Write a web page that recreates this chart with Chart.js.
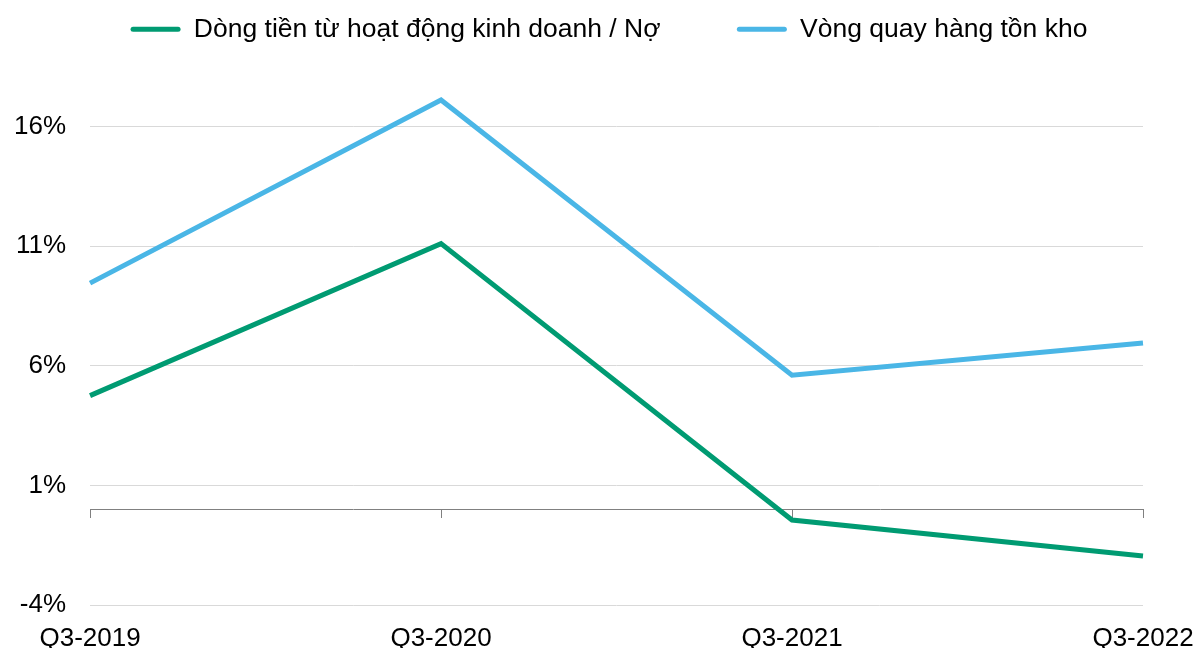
<!DOCTYPE html>
<html>
<head>
    <meta charset="utf-8">
    <title>Dòng tiền và vòng quay hàng tồn kho</title>
    <style>
        body {
            margin: 0;
            padding: 0;
            background-color: #ffffff;
        }
        #wrap {
            width: 1198px;
            height: 648px;
        }
    </style>
    <script src="https://cdn.jsdelivr.net/npm/chart.js"></script>
</head>
<body>
<div id="wrap"><canvas id="myChart"></canvas></div>
<script>
    // Dữ liệu
    const quarters = ['Q3-2019', 'Q3-2020', 'Q3-2021', 'Q3-2022'];
    const cashFlowDebt = [4.75, 11.1, -0.45, -1.95];      // Dòng tiền từ HĐKD / Nợ (%)
    const inventoryTurnover = [9.45, 17.1, 5.6, 6.95];    // Vòng quay hàng tồn kho
    const yTicks = [-4, 1, 6, 11, 16];

    const fontFamily = '"Liberation Sans", Arial, sans-serif';

    // chừa thêm khoảng trống dưới chú thích, dịch chú thích sang phải một chút
    const legendGap = {
        id: 'legendGap',
        beforeInit(chart) {
            const origFit = chart.legend.fit;
            chart.legend.fit = function () {
                origFit.bind(chart.legend)();
                this.height += 26;
            };
        },
        afterLayout(chart) {
            chart.legend.left += 3;
            chart.legend.right += 3;
        }
    };

    const ctx = document.getElementById('myChart').getContext('2d');
    const myChart = new Chart(ctx, {
        type: 'line',
        data: {
            labels: quarters,
            datasets: [{
                label: 'Dòng tiền từ hoạt động kinh doanh / Nợ',
                data: cashFlowDebt,
                borderColor: '#009b72',
                backgroundColor: '#009b72',
                borderWidth: 5,
                pointRadius: 0,
                tension: 0
            }, {
                label: 'Vòng quay hàng tồn kho',
                data: inventoryTurnover,
                borderColor: '#4ab6e6',
                backgroundColor: '#4ab6e6',
                borderWidth: 5,
                pointRadius: 0,
                tension: 0
            }]
        },
        options: {
            responsive: true,
            maintainAspectRatio: false,
            animation: false,
            layout: {
                padding: { left: 14, right: 0, top: 6, bottom: 0 }
            },
            scales: {
                x: {
                    type: 'category',
                    position: 'bottom',
                    offset: false,
                    grid: { display: false, drawTicks: false },
                    border: { display: false },
                    afterFit: (scale) => {
                        scale.height = 43;
                        scale.paddingLeft = 0;
                        scale.paddingRight = 55;
                    },
                    ticks: {
                        color: '#000',
                        padding: 18,
                        maxRotation: 0,
                        font: { family: fontFamily, size: 26 }
                    }
                },
                // trục ngang ở mức 0 với vạch chia
                xZero: {
                    type: 'category',
                    position: { y: 0 },
                    offset: false,
                    afterFit: (scale) => {
                        scale.paddingLeft = 0;
                        scale.paddingRight = 0;
                    },
                    grid: {
                        drawOnChartArea: false,
                        drawTicks: true,
                        tickLength: 8,
                        color: '#808080'
                    },
                    border: { display: true, color: '#808080', width: 1 },
                    ticks: { display: false }
                },
                y: {
                    min: -4,
                    max: 18,
                    afterBuildTicks: (scale) => {
                        scale.ticks = yTicks.map(v => ({ value: v }));
                    },
                    afterFit: (scale) => {
                        scale.width -= 24;
                    },
                    grid: {
                        color: '#d9d9d9',
                        drawTicks: false
                    },
                    border: { display: false },
                    ticks: {
                        color: '#000',
                        padding: 24,
                        font: { family: fontFamily, size: 26 },
                        callback: (v) => v + '%'
                    }
                }
            },
            plugins: {
                legend: {
                    position: 'top',
                    align: 'center',
                    labels: {
                        color: '#000',
                        boxWidth: 50,
                        boxHeight: 5,
                        useBorderRadius: true,
                        borderRadius: 2.5,
                        padding: 10,
                        font: { family: fontFamily, size: 26.5 },
                        generateLabels: (chart) => {
                            const items = Chart.defaults.plugins.legend.labels.generateLabels(chart);
                            items[0].text += '\u00A0'.repeat(9);
                            items.forEach(it => { it.lineWidth = 0; });
                            return items;
                        }
                    }
                },
                tooltip: { enabled: false }
            }
        },
        plugins: [legendGap]
    });
</script>
</body>
</html>
